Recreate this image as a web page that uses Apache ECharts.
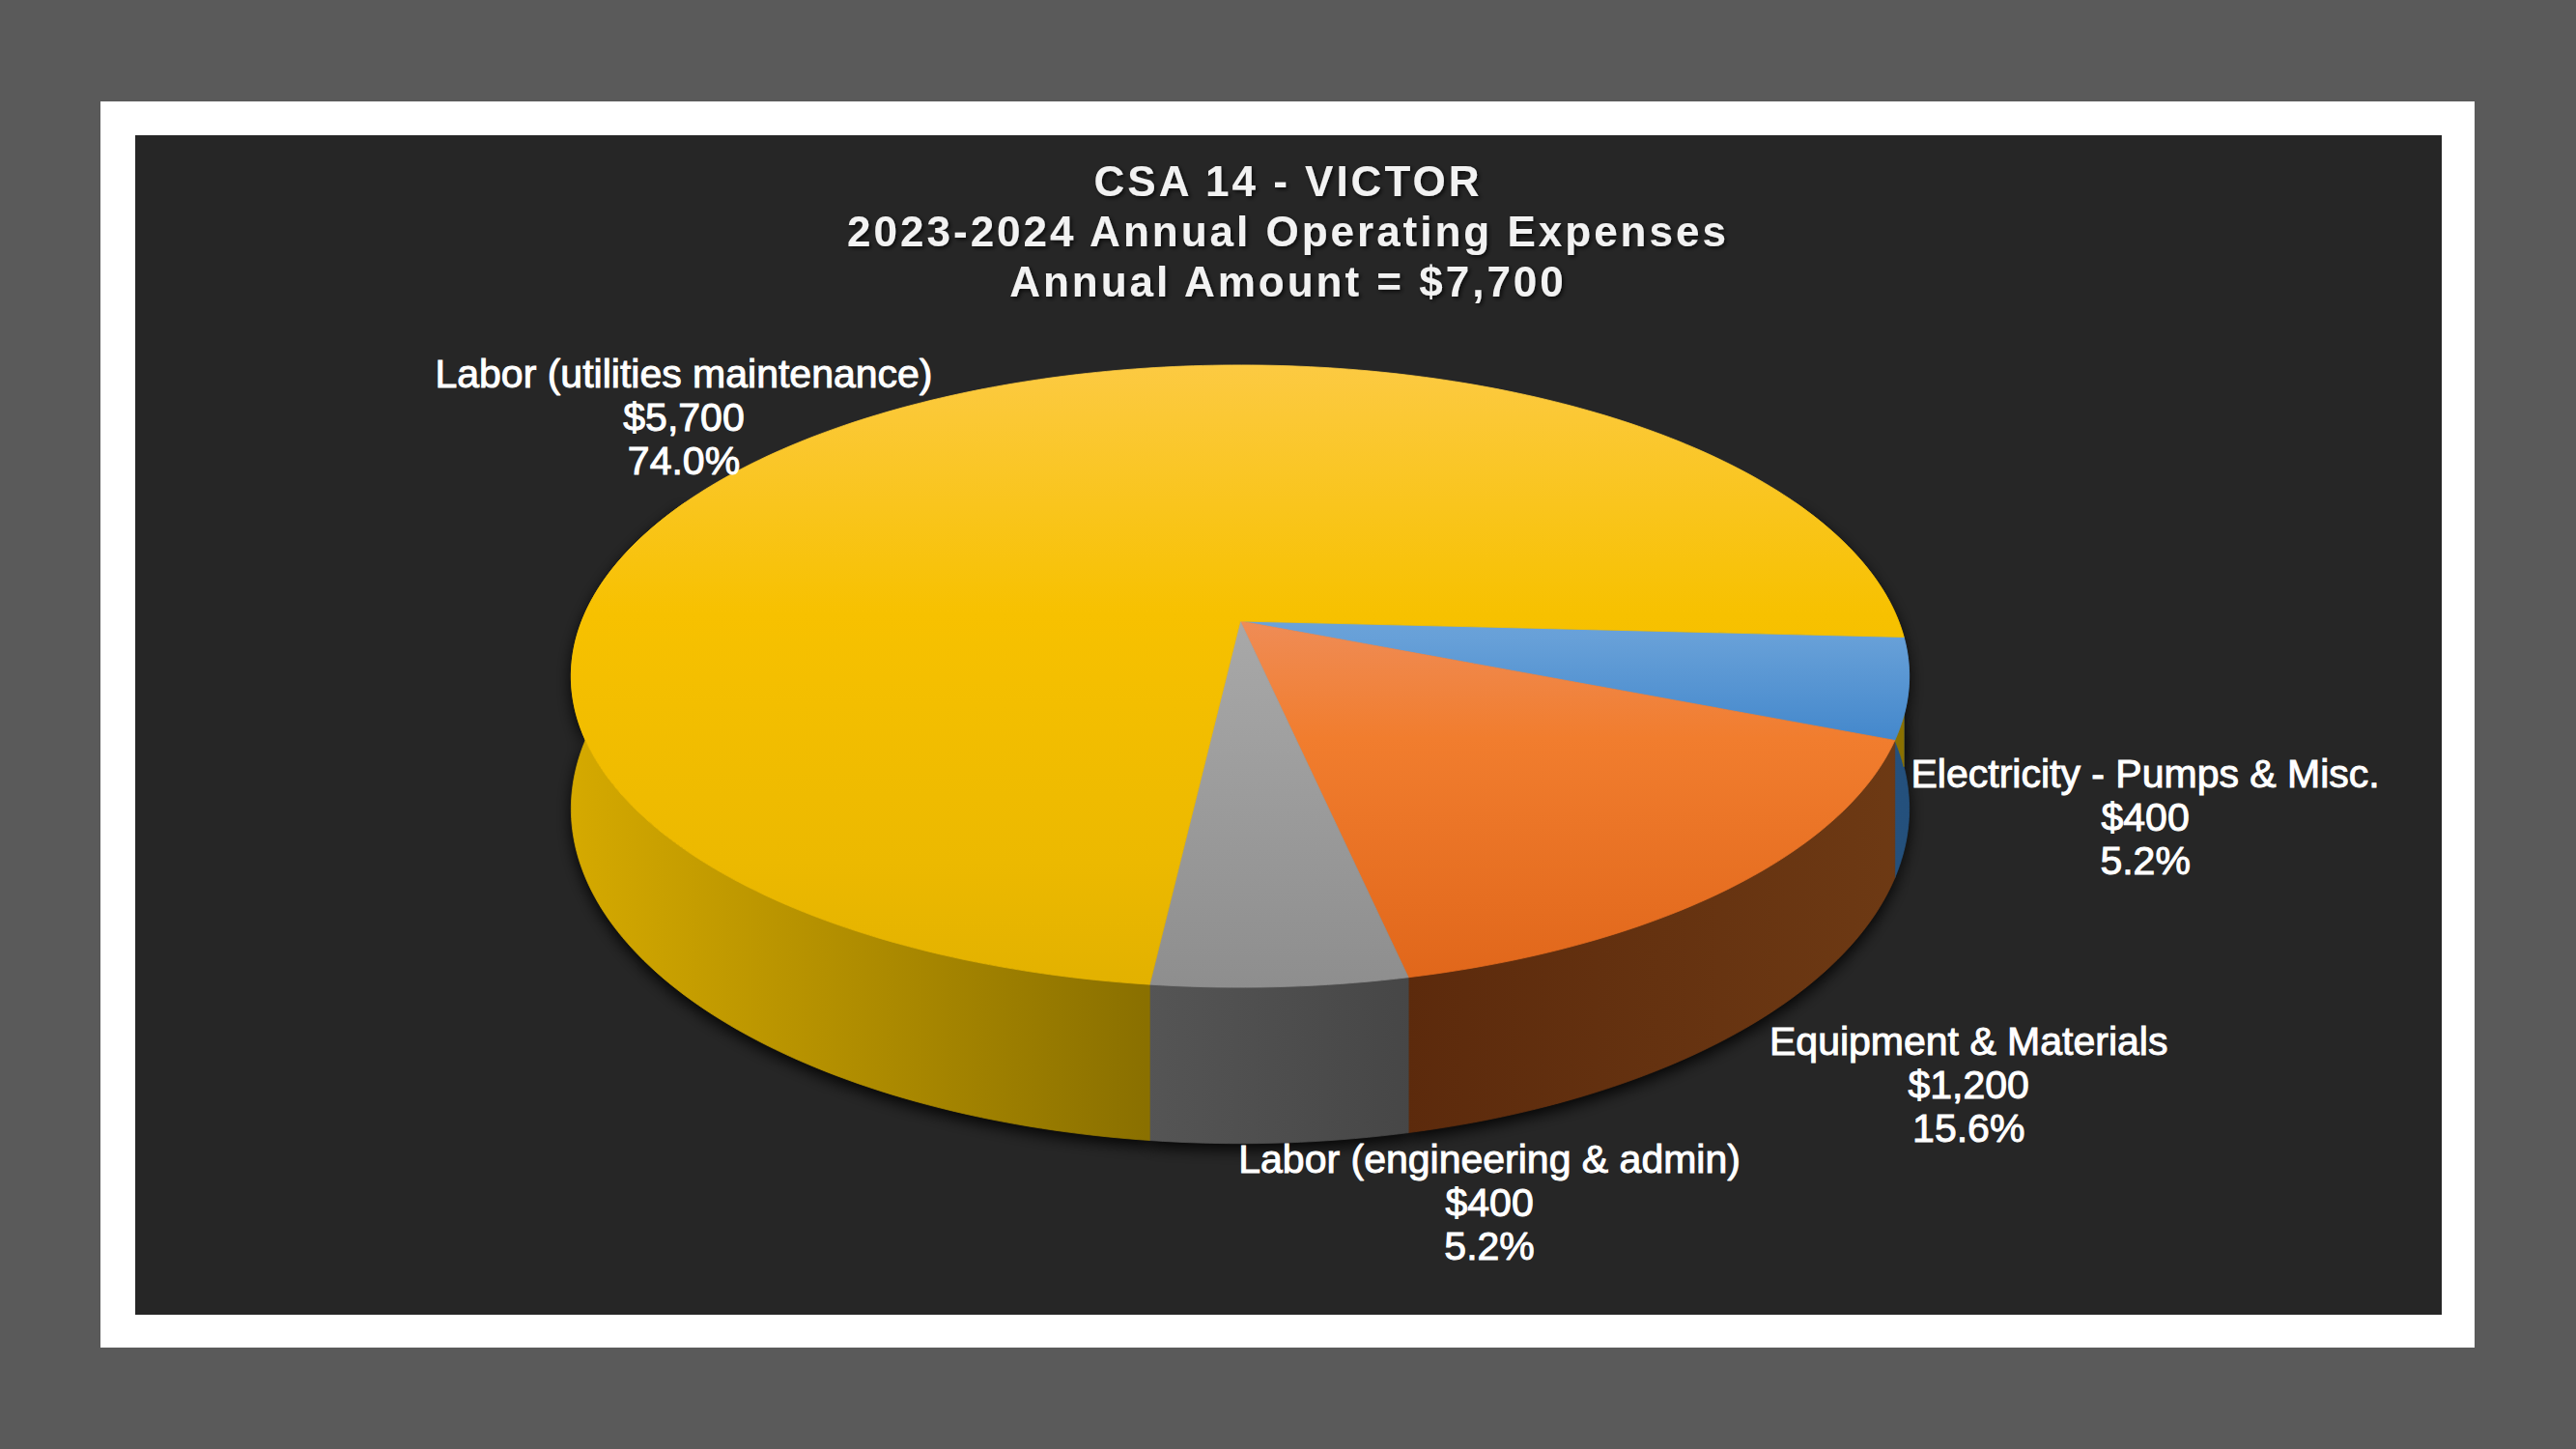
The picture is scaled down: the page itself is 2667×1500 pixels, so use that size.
<!DOCTYPE html>
<html>
<head>
<meta charset="utf-8">
<script src="https://cdn.jsdelivr.net/npm/echarts@6/dist/echarts.min.js"></script>
<style>
  html, body { margin: 0; padding: 0; background: #5a5a5a; }
  #chart { width: 2667px; height: 1500px; }
  /* title is the only bold text: give it the wide tracking of the original */
  #chart text[style*="bold"], #chart text[font-weight="bold"] { letter-spacing: 3px; }
</style>
</head>
<body>
<div id="chart"></div>
<script>
// data
const categories = [
  'Electricity - Pumps & Misc.',
  'Equipment & Materials',
  'Labor (engineering & admin)',
  'Labor (utilities maintenance)'
];
const amounts = [400, 1200, 400, 5700];
const titleLines = [
  'CSA 14 - VICTOR',
  '2023-2024 Annual Operating Expenses',
  'Annual Amount = $7,700'
];

// 3d pie layout (pixels)
const CX = 1284, CY = 643;     // projected centre of the disc
const RX = 681.7, RY = 312;    // radii before perspective
const K = 0.177;               // perspective strength
const DEPTH = 133;             // wall height
const START_ANGLE = 3.0;       // degrees, clockwise from 3 o'clock
const FRONT = [-25, 205];      // angles where the wall can be seen

// styles per slice
const topStops = [
  [[0, '#9cc5ec'], [0.44, '#67a0d8'], [0.6, '#4488cc'], [1, '#2c6cb0']],
  [[0, '#f19a6a'], [0.4, '#ef8d58'], [0.6, '#f17d2e'], [1, '#e0661a']],
  [[0, '#b0b0b0'], [0.4, '#a9a9a9'], [1, '#8e8e8e']],
  [[0, '#fcca42'], [0.4, '#f7c100'], [0.8, '#ecb900'], [1, '#e2b100']]
];
const wallStops = [
  [[0, '#2b5d8f'], [1, '#24507c']],
  [[0, '#5c2a0c'], [0.62, '#5c2a0c'], [1, '#6e3a14']],
  [[0, '#555555'], [0.43, '#555555'], [0.63, '#464646'], [1, '#464646']],
  [[0, '#d6aa00'], [0.43, '#8a7000'], [1, '#8a7000']]
];
// label centre relative to the rim point at the slice's middle angle
const labelOffsets = [[245, 134], [245, 205], [217, 223], [-188, -1]];

const total = amounts.reduce((a, b) => a + b, 0);
const starts = [];
let acc = START_ANGLE;
amounts.forEach(v => { starts.push(acc); acc += v / total * 360; });

function proj(deg, drop) {
  const p = deg * Math.PI / 180;
  const d = 1 - K * Math.sin(p);
  return [CX + RX * Math.cos(p) / d, CY + (RY * Math.sin(p) + drop) / d];
}

function grad(x0, y0, x1, y1, stops) {
  return new echarts.graphic.LinearGradient(x0, y0, x1, y1,
    stops.map(s => ({ offset: s[0], color: s[1] })), true);
}

function arc(a0, a1, drop) {
  const n = Math.max(2, Math.ceil(Math.abs(a1 - a0)));
  const pts = [];
  for (let j = 0; j <= n; j++) pts.push(proj(a0 + (a1 - a0) * j / n, drop));
  return pts;
}

function renderItem(params, api) {
  const i = params.dataIndex;
  const v = api.value(0);
  const a0 = starts[i];
  const a1 = a0 + v / total * 360;
  const children = [];
  const topY = CY - RY / (1 + K), botY = CY + RY / (1 - K);
  const wallFill = grad(CX - 700, 0, CX + 700, 0, wallStops[i]);

  for (const k of [-1, 0, 1]) {
    const lo = Math.max(a0, FRONT[0] + 360 * k);
    const hi = Math.min(a1, FRONT[1] + 360 * k);
    if (hi <= lo) continue;
    const pts = arc(lo, hi, 0).concat(arc(hi, lo, DEPTH));
    children.push({
      type: 'polygon', z2: -1, shape: { points: pts },
      style: { fill: '#111', shadowBlur: 16, shadowOffsetY: 6, shadowColor: 'rgba(0,0,0,0.9)' }
    });
    children.push({
      type: 'polygon', z2: 1, shape: { points: pts },
      style: { fill: wallFill, stroke: wallFill, lineWidth: 0.8 }
    });
  }

  const topFill = grad(0, topY, 0, botY, topStops[i]);
  children.push({
    type: 'polygon', z2: 10,
    shape: { points: [[CX, CY]].concat(arc(a0, a1, 0)) },
    style: { fill: topFill, stroke: topFill, lineWidth: 0.8 }
  });

  const rim = proj((a0 + a1) / 2, 0);
  children.push({
    type: 'text', z2: 30,
    style: {
      text: categories[i] + '\n$' + v.toLocaleString('en-US') + '\n' + (v / total * 100).toFixed(1) + '%',
      x: rim[0] + labelOffsets[i][0],
      y: rim[1] + labelOffsets[i][1],
      align: 'center',
      verticalAlign: 'middle',
      fill: '#ffffff',
      stroke: '#ffffff',
      lineWidth: 1,
      fontSize: 41,
      fontFamily: '"Liberation Sans", Arial, sans-serif',
      lineHeight: 45
    }
  });
  return { type: 'group', children };
}

const chart = echarts.init(document.getElementById('chart'), null, { renderer: 'svg' });
chart.setOption({
  backgroundColor: '#5a5a5a',
  animation: false,
  title: {
    text: titleLines.join('\n'),
    left: 'center',
    top: 156,
    textStyle: {
      color: '#f2f2f2',
      fontSize: 44,
      fontWeight: 'bold',
      fontFamily: '"Liberation Sans", Arial, sans-serif',
      lineHeight: 52,
      textShadowColor: 'rgba(0,0,0,0.7)',
      textShadowBlur: 4,
      textShadowOffsetX: 2,
      textShadowOffsetY: 2
    }
  },
  graphic: [
    { type: 'rect', z: 0, shape: { x: 104, y: 105, width: 2458, height: 1290 }, style: { fill: '#ffffff' } },
    { type: 'rect', z: 0, shape: { x: 140, y: 140, width: 2388, height: 1221 }, style: { fill: '#262626' } }
  ],
  series: [{
    type: 'custom',
    coordinateSystem: 'none',
    silent: true,
    renderItem: renderItem,
    data: amounts.map((v, i) => ({ name: categories[i], value: v }))
  }]
});
</script>
</body>
</html>
